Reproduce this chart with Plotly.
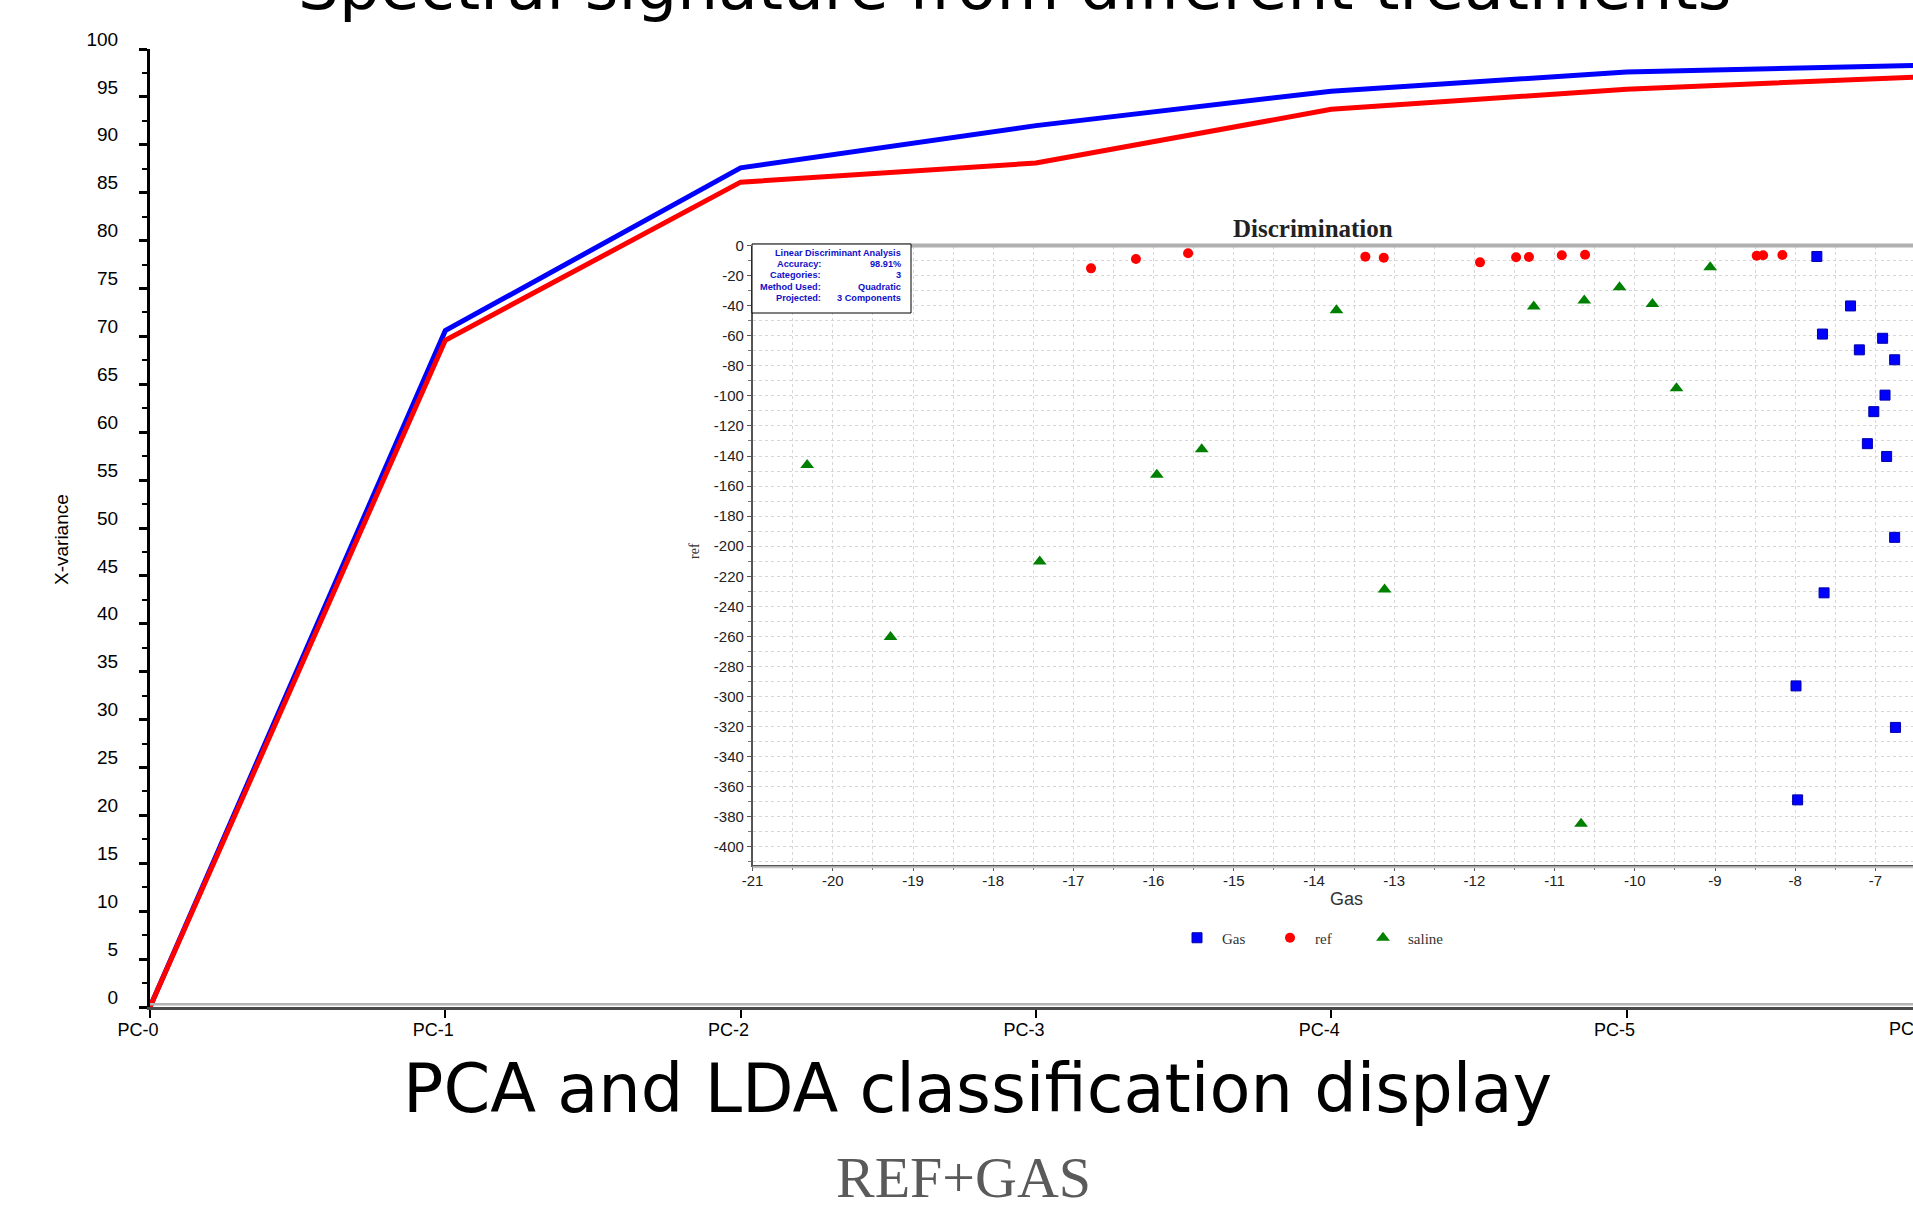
import plotly.graph_objects as go

W, H = 1913, 1205

# ---------------- data ----------------
components = ["PC-0", "PC-1", "PC-2", "PC-3", "PC-4", "PC-5", "PC-6"]
variance_blue = [0, 70.6, 87.6, 92.0, 95.6, 97.6, 98.3]
variance_red = [0, 69.6, 86.1, 88.1, 93.7, 95.8, 97.1]

gas_x = [-7.73, -7.31, -7.66, -6.91, -7.20, -6.76, -6.88, -7.02, -7.10, -6.86, -6.76, -7.64, -7.99, -6.75, -7.97]
gas_y = [-7.3, -40.2, -58.9, -61.7, -69.4, -76.0, -99.5, -110.5, -131.8, -140.3, -194.1, -231.0, -292.9, -320.5, -368.7]
ref_x = [-16.78, -16.22, -15.57, -13.36, -13.13, -11.93, -11.48, -11.32, -10.91, -10.62, -8.48, -8.40, -8.16]
ref_y = [-15.2, -9.0, -5.2, -7.4, -8.1, -11.2, -7.8, -7.6, -6.5, -6.1, -6.8, -6.5, -6.3]
saline_x = [-20.32, -19.28, -17.42, -15.96, -15.40, -13.72, -13.12, -11.26, -10.63, -10.67, -10.19, -9.78, -9.48, -9.06]
saline_y = [-146.0, -260.4, -210.1, -152.5, -135.5, -43.0, -228.8, -40.6, -36.5, -384.6, -27.8, -38.9, -94.9, -14.5]

lda_x_tickvals = [-21, -20, -19, -18, -17, -16, -15, -14, -13, -12, -11, -10, -9, -8, -7]
lda_x_ticktext = ["-21", "-20", "-19", "-18", "-17", "-16", "-15", "-14", "-13", "-12", "-11", "-10", "-9", "-8", "-7"]
lda_y_tickvals = [0, -20, -40, -60, -80, -100, -120, -140, -160, -180, -200, -220, -240, -260, -280,
                  -300, -320, -340, -360, -380, -400]
lda_y_ticktext = ["0", "-20", "-40", "-60", "-80", "-100", "-120", "-140", "-160", "-180", "-200", "-220",
                  "-240", "-260", "-280", "-300", "-320", "-340", "-360", "-380", "-400"]

info_labels = ["Accuracy:", "Categories:", "Method Used:", "Projected:"]
info_values = ["98.91%", "3", "Quadratic", "3 Components"]

# ---------------- helpers (pixel -> paper) ----------------
def px(x):
    return x / W

def py(y):
    return 1 - y / H

fig = go.Figure()

# main PCA variance lines
fig.add_trace(go.Scatter(x=components, y=variance_blue, mode="lines",
                         line=dict(color="#0000ff", width=5), showlegend=False,
                         xaxis="x", yaxis="y"))
fig.add_trace(go.Scatter(x=components, y=variance_red, mode="lines",
                         line=dict(color="#ff0000", width=5), showlegend=False,
                         xaxis="x", yaxis="y"))

# inset LDA scatter
fig.add_trace(go.Scatter(x=gas_x, y=gas_y, mode="markers", name="Gas",
                         marker=dict(symbol="square", size=10, color="#0000ff",
                                     line=dict(color="#0000aa", width=1)),
                         xaxis="x2", yaxis="y2"))
fig.add_trace(go.Scatter(x=ref_x, y=ref_y, mode="markers", name="ref",
                         marker=dict(symbol="circle", size=10, color="#ff0000",
                                     line=dict(width=0)),
                         xaxis="x2", yaxis="y2"))
fig.add_trace(go.Scatter(x=saline_x, y=saline_y, mode="markers", name="saline",
                         marker=dict(symbol="triangle-up", size=12, color="#008000",
                                     line=dict(width=0)),
                         xaxis="x2", yaxis="y2"))

main_font = "Liberation Sans, Arial, sans-serif"
narrow_font = "Liberation Sans Narrow, Arial Narrow, Liberation Sans, sans-serif"
serif_font = "Liberation Serif, Times New Roman, serif"

x_left, x_unit = 150, 295.3
y0_px, y100_px = 1007, 49

ix_left, ix_unit = 752.6, 80.2
iy_top, iy_bot = 245.5, 865

grid_c = "#d6d6d6"

fig.update_layout(
    width=W, height=H,
    margin=dict(l=0, r=0, t=0, b=0, autoexpand=False),
    paper_bgcolor="white", plot_bgcolor="white",
    font=dict(family=main_font, color="black"),
    xaxis=dict(domain=[px(x_left), 1], anchor="y",
               range=[0, (W - x_left) / x_unit],
               showline=True, linecolor="#4a4a4a", linewidth=3,
               ticks="outside", ticklen=8, tickwidth=1.5, tickcolor="black",
               tickfont=dict(size=18, family=main_font), ticklabelshift=-12,
               ticklabelstandoff=-4,
               showgrid=False, zeroline=False),
    yaxis=dict(domain=[py(y0_px), py(y100_px)], anchor="x",
               range=[0, 100], tick0=0, dtick=5,
               showline=True, linecolor="black", linewidth=3,
               ticks="outside", ticklen=8, tickwidth=2.5, tickcolor="black",
               minor=dict(dtick=2.5, ticks="outside", ticklen=5, tickwidth=2, tickcolor="black", showgrid=False),
               tickfont=dict(size=19, family=main_font), ticklabelshift=-10, ticklabelstandoff=17,
               showgrid=False, zeroline=False),
    xaxis2=dict(domain=[px(ix_left), 1], anchor="y2",
                range=[-21, -21 + (W - ix_left) / ix_unit],
                tickmode="array", tickvals=lda_x_tickvals, ticktext=lda_x_ticktext,
                showline=True, linecolor="#555555", linewidth=1.5,
                ticks="outside", ticklen=4, tickwidth=1, tickcolor="#555555",
                showgrid=True, gridcolor=grid_c, griddash="3px,3px", gridwidth=1,
                minor=dict(dtick=0.5, tick0=-21, showgrid=True, gridcolor=grid_c, griddash="3px,3px",
                           ticks="outside", ticklen=3, tickcolor="#777777"),
                tickfont=dict(size=15, family=narrow_font, color="#222222"),
                ticklabelstandoff=-3,
                zeroline=False),
    yaxis2=dict(domain=[py(iy_bot), py(iy_top)], anchor="x2",
                range=[-412, 0],
                tickmode="array", tickvals=lda_y_tickvals, ticktext=lda_y_ticktext,
                showline=True, linecolor="#555555", linewidth=1.5,
                ticks="outside", ticklen=4, tickwidth=1, tickcolor="#555555",
                showgrid=True, gridcolor=grid_c, griddash="3px,3px", gridwidth=1,
                minor=dict(dtick=10, tick0=0, showgrid=True, gridcolor=grid_c, griddash="3px,3px",
                           ticks="outside", ticklen=3, tickcolor="#777777"),
                tickfont=dict(size=15, family=narrow_font, color="#222222"),
                zeroline=False),
    legend=dict(orientation="h", x=px(1172), y=py(938), xanchor="left", yanchor="middle",
                font=dict(size=15, family=serif_font, color="#333333"),
                itemwidth=40, entrywidth=38, entrywidthmode="pixels", bgcolor="rgba(0,0,0,0)",
                itemclick=False),
)

shapes = []
# light band above main x axis
shapes.append(dict(type="line", xref="paper", yref="paper",
                   x0=px(x_left), x1=1, y0=py(y0_px - 2.8), y1=py(y0_px - 2.8),
                   line=dict(color="#b4b4b4", width=2.5)))
# thick grey top border of inset (zero line)
shapes.append(dict(type="line", xref="paper", yref="paper",
                   x0=px(ix_left), x1=1, y0=py(iy_top), y1=py(iy_top),
                   line=dict(color="#b0b0b0", width=4)))
# light line under inset x axis
shapes.append(dict(type="line", xref="paper", yref="paper",
                   x0=px(ix_left), x1=1, y0=py(iy_bot + 2.2), y1=py(iy_bot + 2.2),
                   line=dict(color="#c4c4c4", width=2)))
# info box
shapes.append(dict(type="rect", xref="paper", yref="paper",
                   x0=px(752), x1=px(911), y0=py(313), y1=py(244),
                   fillcolor="white", line=dict(color="black", width=1), layer="above"))
fig.update_layout(shapes=shapes)

ann = []
title_font = "DejaVu Sans, Liberation Sans, sans-serif"
ann.append(dict(text="Spectral signature from different treatments", xref="paper", yref="paper",
                x=px(1015), y=py(-14), xanchor="center", yanchor="middle", showarrow=False,
                font=dict(size=64.5, family=title_font, color="black")))
ann.append(dict(text="PCA and LDA classification display", xref="paper", yref="paper",
                x=px(977), y=py(1089), xanchor="center", yanchor="middle", showarrow=False,
                font=dict(size=67, family=title_font, color="black")))
ann.append(dict(text="REF+GAS", xref="paper", yref="paper",
                x=px(963), y=py(1177), xanchor="center", yanchor="middle", showarrow=False,
                font=dict(size=58, family=serif_font, color="#5a5a5a")))
ann.append(dict(text="X-variance", xref="paper", yref="paper", textangle=-90,
                x=px(61), y=py(540), xanchor="center", yanchor="middle", showarrow=False,
                font=dict(size=19, family=main_font, color="black")))
# partially visible category label of the last component (beyond the right edge)
ann.append(dict(text=components[-1], xref="paper", yref="paper",
                x=px(x_left + 6 * x_unit - 12), y=py(y0_px + 22), xanchor="center", yanchor="middle",
                showarrow=False, font=dict(size=18, family=main_font, color="black")))
ann.append(dict(text="<b>Discrimination</b>", xref="paper", yref="paper",
                x=px(1313), y=py(228), xanchor="center", yanchor="middle", showarrow=False,
                font=dict(size=25, family=serif_font, color="#222222")))
ann.append(dict(text="ref", xref="paper", yref="paper", textangle=-90,
                x=px(695), y=py(551), xanchor="center", yanchor="middle", showarrow=False,
                font=dict(size=14, family=serif_font, color="#333333")))
ann.append(dict(text="Gas", xref="paper", yref="paper",
                x=px(1346), y=py(899), xanchor="center", yanchor="middle", showarrow=False,
                font=dict(size=18, family=narrow_font, color="#333333")))
# info box text
info_font = dict(size=9.2, family="Liberation Sans, Arial, sans-serif", color="#1010c8")
ann.append(dict(text="<b>Linear Discriminant Analysis</b>", xref="paper", yref="paper",
                x=px(903), y=py(252.7), xanchor="right", yanchor="middle", showarrow=False,
                font=info_font))
line_y = [263.5, 274.8, 286.5, 298.2]
for lab, val, yy in zip(info_labels, info_values, line_y):
    ann.append(dict(text="<b>" + lab + "</b>", xref="paper", yref="paper",
                    x=px(823), y=py(yy), xanchor="right", yanchor="middle", showarrow=False,
                    font=info_font))
    ann.append(dict(text="<b>" + val + "</b>", xref="paper", yref="paper",
                    x=px(903), y=py(yy), xanchor="right", yanchor="middle", showarrow=False,
                    font=info_font))
fig.update_layout(annotations=ann)

fig.write_html("out.html", config={"displayModeBar": False},
               post_script="document.body.style.margin='0';document.body.style.overflow='hidden';")
